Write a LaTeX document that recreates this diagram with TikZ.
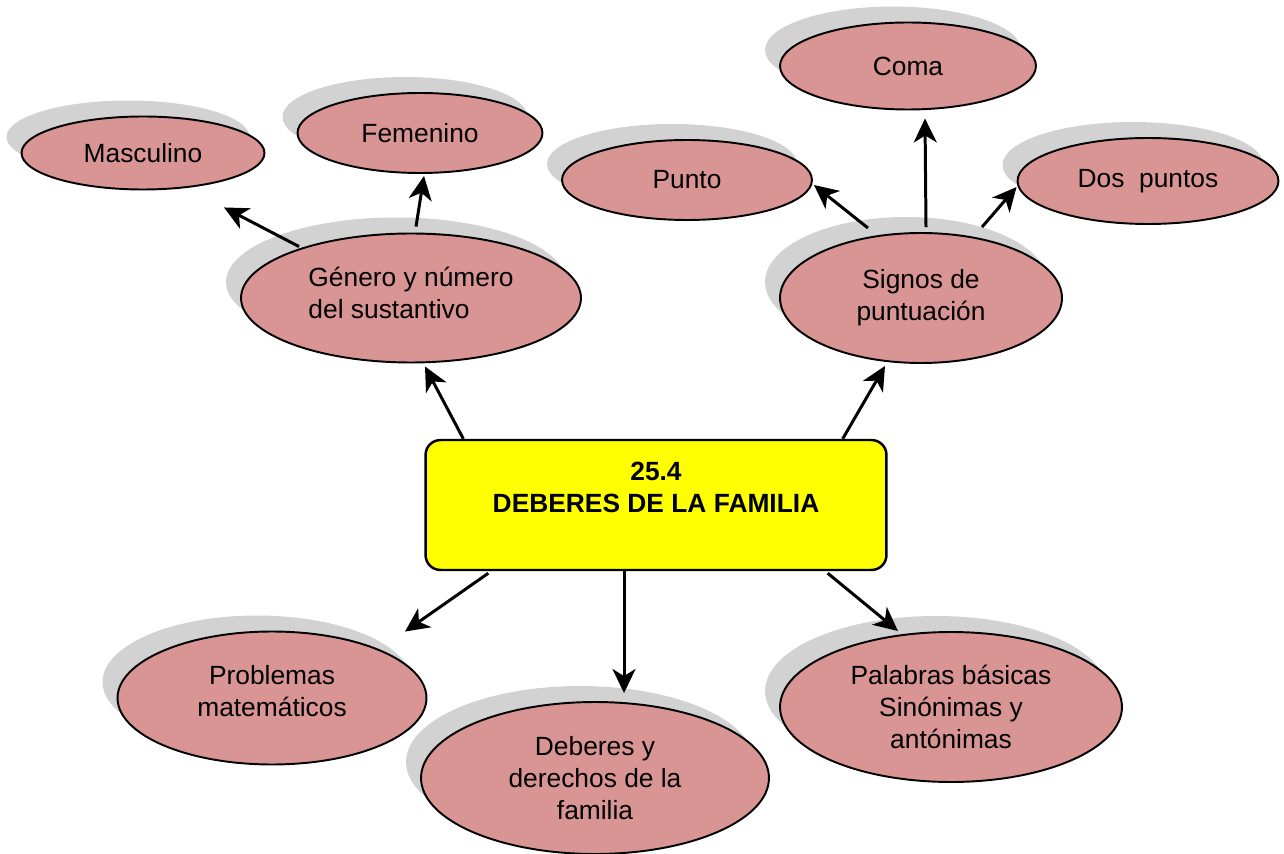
\documentclass[tikz,border=0pt]{standalone}
\usepackage{fontspec}
\setmainfont{Liberation Sans}
\usepackage{xcolor}
\usepackage{tikz}
\usetikzlibrary{shapes.geometric,shadows,calc,arrows.meta}

\definecolor{rosa}{RGB}{217,149,148}
\definecolor{sombra}{RGB}{210,210,210}
\definecolor{amarillo}{RGB}{255,255,0}

\begin{document}
\begin{tikzpicture}[x=0.02cm,y=-0.02cm,
		idea/.style={ellipse,draw,line width=1.1pt,fill=rosa,align=center,inner sep=0pt,
			drop shadow={shadow xshift=-0.3cm,shadow yshift=0.32cm,fill=sombra,opacity=1}},
		tema/.style={rectangle,draw,line width=1.4pt,fill=amarillo,rounded corners=0.3cm,
			align=center,font=\bfseries\fontsize{15}{18.2}\selectfont},
		flecha/.style={line width=1.7pt,-{Stealth[length=0.48cm,width=0.46cm,inset=0.14cm]}},
		every node/.style={font=\fontsize{15}{18.2}\selectfont}]
				\useasboundingbox (0,0) rectangle (1284,854);
				
				% centro
				\node[tema,minimum width=9.22cm,minimum height=2.6cm] (box) at (656,505)
					{25.4\\DEBERES DE LA FAMILIA\\[-4pt]\strut};
				
				% rama izquierda
				\node[idea,minimum width=6.8cm,minimum height=2.58cm,align=left] (gen) at (411,298)
					{G\'enero y n\'umero\\del sustantivo\\[-12pt]\mbox{}};
				\node[idea,minimum width=4.86cm,minimum height=1.46cm] (masc) at (143,153) {Masculino};
				\node[idea,minimum width=4.9cm,minimum height=1.6cm] (fem) at (420,133) {Femenino};
				
				% rama derecha
				\node[idea,minimum width=5.64cm,minimum height=2.6cm] (sig) at (921,298)
					{Signos de\\puntuaci\'on};
				\node[idea,minimum width=5.0cm,minimum height=1.6cm] (punto) at (687,180) {Punto};
				\node[idea,minimum width=5.12cm,minimum height=1.74cm] (coma) at (908,66) {Coma};
				\node[idea,minimum width=5.22cm,minimum height=1.72cm] (dos) at (1148,181) {Dos~~puntos};
				
				% abajo
				\node[idea,minimum width=6.18cm,minimum height=2.66cm] (prob) at (272,698)
					{Problemas\\matem\'aticos\\[-10pt]\mbox{}};
				\node[idea,minimum width=6.96cm,minimum height=3.04cm] (deb) at (595,778)
					{Deberes y\\derechos de la\\familia};
				\node[idea,minimum width=6.84cm,minimum height=3.0cm] (pal) at (951,707)
					{Palabras b\'asicas\\Sin\'onimas y\\ant\'onimas};
				
				% flechas
				\draw[flecha] ($(box.north west)+(39,0)$) -- ($(gen.south)+(14,3)$);
				\draw[flecha] ($(box.north east)+(-45,0)$) -- ($(sig.south)+(-36,2)$);
				\draw[flecha] ($(gen.north)+(-112,14)$) -- ($(masc.south)+(81,17)$);
				\draw[flecha] ($(gen.north)+(5,-6)$) -- ($(fem.south)+(4,2)$);
				\draw[flecha] ($(sig.north)+(-53,-4)$) -- ($(punto.east)+(1,5)$);
				\draw[flecha] ($(sig.north)+(5,-5)$) -- ($(coma.south)+(17,8)$);
				\draw[flecha] ($(sig.north)+(61,-5)$) -- ($(dos.west)+(0,6)$);
				\draw[flecha] ($(box.south west)+(64,2)$) -- ($(prob.north)+(133,1)$);
				\draw[flecha] ($(box.south)+(-32,0)$) -- ($(deb.north)+(29,-8)$);
				\draw[flecha] ($(box.south east)+(-60,2)$) -- ($(pal.north)+(-53,0)$);
\end{tikzpicture}
\end{document}
